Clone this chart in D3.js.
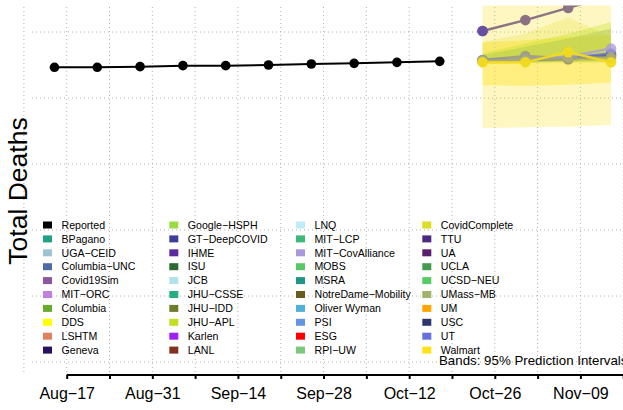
<!DOCTYPE html>
<html>
<head>
<meta charset="utf-8">
<script src="https://cdn.jsdelivr.net/npm/d3@7"></script>
<style>
  html, body { margin: 0; padding: 0; background: #fff; }
  svg { display: block; font-family: "Liberation Sans", Arial, Helvetica, sans-serif; }
</style>
</head>
<body>
<svg id="chart" width="623" height="410"></svg>
<script>
// ---------------- DATA ----------------
const reportedDates = ["2020-08-15","2020-08-22","2020-08-29","2020-09-05","2020-09-12",
                       "2020-09-19","2020-09-26","2020-10-03","2020-10-10","2020-10-17"];
const reportedValues = [893, 893, 895, 898, 898, 900, 903, 905, 908, 911];

const forecastDates = ["2020-10-24","2020-10-31","2020-11-07","2020-11-14"];

// forecast medians
const walmartMed   = [908, 908, 939, 908];
const lanlMed      = [1003, 1036, 1073, 1110];
const umassMed     = [915, 927, 920, 927];
const utMed        = [915, 918, 921, 935];
const uscMed       = [912, 915, 918, 930];
const covAllMed    = [914, 918, 925, 950];
const jhuApLMed    = [914, 918, 921, 925];
const covCompMed   = [911, 914, 917, 920];
const ttuMed       = [1003];

// 95% prediction intervals
const walmartLo = [709, 711, 713, 718];
const walmartHi = [1120, 1160, 1200, 1250];
const ddsLo     = [839, 836, 840, 846];
const ddsHi     = [968, 975, 985, 990];
const covCompLo = [905, 905, 906, 906];
const covCompHi = [970, 995, 1045, 985];
const jhuApLLo  = [905, 906, 908, 910];
const jhuApLHi  = [935, 965, 995, 1030];
const umassLo   = [906, 908, 910, 912];
const umassHi   = [930, 955, 980, 1010];

// y gridlines
const yGrid = [0, 200, 400, 600, 800, 1000];

// x ticks
const tickDates = ["2020-08-10","2020-08-17","2020-08-24","2020-08-31","2020-09-07","2020-09-14",
                   "2020-09-21","2020-09-28","2020-10-05","2020-10-12","2020-10-19","2020-10-26",
                   "2020-11-02","2020-11-09","2020-11-16"];
const tickLabels = ["", "Aug\u221217", "", "Aug\u221231", "", "Sep\u221214", "", "Sep\u221228", "",
                    "Oct\u221212", "", "Oct\u221226", "", "Nov\u221209", ""];

// legend
const legendNames = ["Reported","BPagano","UGA\u2212CEID","Columbia\u2212UNC","Covid19Sim","MIT\u2212ORC","Columbia","DDS","LSHTM","Geneva",
  "Google\u2212HSPH","GT\u2212DeepCOVID","IHME","ISU","JCB","JHU\u2212CSSE","JHU\u2212IDD","JHU\u2212APL","Karlen","LANL",
  "LNQ","MIT\u2212LCP","MIT\u2212CovAlliance","MOBS","MSRA","NotreDame\u2212Mobility","Oliver Wyman","PSI","ESG","RPI\u2212UW",
  "CovidComplete","TTU","UA","UCLA","UCSD\u2212NEU","UMass\u2212MB","UM","USC","UT","Walmart"];
const legendColors = ["#000000","#1fa187","#9cc3d5","#4f69a8","#8c55a0","#c080e0","#6aaa2c","#ffff00","#e08060","#271060",
  "#99dd44","#3a3f9b","#5b2a9e","#2d6a2f","#b4e0ee","#25b07f","#6e7b2a","#c0e024","#a020f0","#80321f",
  "#c0ecfa","#3cb878","#a898dc","#5ac866","#1e9688","#6b5a1e","#50b0d8","#6495e0","#ff0000","#7ec87e",
  "#dcdc20","#4a2a80","#5a2070","#459a4e","#55cc66","#a0b46a","#ffa500","#2e3670","#6470dc","#ffe119"];

// ---------------- CHART ----------------
const svg = d3.select("#chart");
const W = 623, H = 410;
const parse = d3.utcParse("%Y-%m-%d");

const x = d3.scaleUtc()
  .domain([parse("2020-08-17"), parse("2020-11-09")])
  .range([66.7, 580.4]);
const y = d3.scaleLinear().domain([0, 1000]).range([362, 32]);

const colorOf = name => legendColors[legendNames.indexOf(name)];

svg.append("defs").append("clipPath").attr("id", "plotclip")
  .append("rect").attr("x", 0).attr("y", 5.5).attr("width", W).attr("height", 370);

// gridlines
const grid = svg.append("g").attr("stroke", "#b0b0b0").attr("stroke-width", 1)
  .attr("stroke-dasharray", "1,3");
grid.selectAll("line.h").data(yGrid).join("line").attr("class", "h")
  .attr("x1", 32).attr("x2", W).attr("y1", d => y(d)).attr("y2", d => y(d));
grid.selectAll("line.v").data(tickDates).join("line").attr("class", "v")
  .attr("x1", d => x(parse(d))).attr("x2", d => x(parse(d))).attr("y1", 7).attr("y2", 375);

// bands
const plot = svg.append("g").attr("clip-path", "url(#plotclip)");
const fd = forecastDates.map(parse);
const bands = [
  { name: "Walmart", lo: walmartLo, hi: walmartHi, op: 0.27 },
  { name: "Walmart", lo: ddsLo, hi: ddsHi, op: 0.38 },
  { name: "CovidComplete", lo: covCompLo, hi: covCompHi, op: 0.22 },
  { name: "UMass\u2212MB", lo: umassLo, hi: umassHi, op: 0.4 },
  { name: "JHU\u2212APL", lo: jhuApLLo, hi: jhuApLHi, op: 0.35 }
];
const area = d3.area().x((d, i) => x(fd[i])).y0(d => y(d[0])).y1(d => y(d[1]));
bands.forEach(b => {
  plot.append("path")
    .datum(b.lo.map((v, i) => [v, b.hi[i]]))
    .attr("d", area)
    .attr("fill", colorOf(b.name))
    .attr("fill-opacity", b.op);
});

// reported
const rd = reportedDates.map(parse);
const line = d3.line().x(d => x(d[0])).y(d => y(d[1]));
plot.append("path")
  .datum(rd.map((d, i) => [d, reportedValues[i]]))
  .attr("d", line).attr("fill", "none").attr("stroke", "#000").attr("stroke-width", 2);
plot.selectAll("circle.rep").data(rd.map((d, i) => [d, reportedValues[i]])).join("circle")
  .attr("class", "rep").attr("cx", d => x(d[0])).attr("cy", d => y(d[1])).attr("r", 4.8).attr("fill", "#000");

// forecast lines
const models = [
  { name: "UMass\u2212MB", med: umassMed, color: "#9a9a88", op: 0.85 },
  { name: "USC", med: uscMed, color: colorOf("USC"), op: 0.8 },
  { name: "UT", med: utMed, color: colorOf("UT"), op: 0.8 },
  { name: "MIT\u2212CovAlliance", med: covAllMed, color: colorOf("MIT\u2212CovAlliance"), op: 0.75 },
  { name: "JHU\u2212APL", med: jhuApLMed, color: "#a8ac70", op: 0.7 },
  { name: "CovidComplete", med: covCompMed, color: "#b5b06a", op: 0.7 },
  { name: "LANL", med: lanlMed, color: "#8c7383", op: 1 },
  { name: "TTU", med: ttuMed, color: "#6a4fa0", op: 1 },
  { name: "Walmart", med: walmartMed, color: "#f2dc1c", op: 0.95 }
];
models.forEach(m => {
  const pts = m.med.map((v, i) => [fd[i], v]);
  const g = plot.append("g").attr("opacity", m.op);
  if (pts.length > 1) {
    g.append("path").datum(pts).attr("d", line).attr("fill", "none")
      .attr("stroke", m.color).attr("stroke-width", 2.5);
  }
  g.selectAll("circle").data(pts).join("circle")
    .attr("cx", d => x(d[0])).attr("cy", d => y(d[1])).attr("r", 5.3).attr("fill", m.color);
});

// x axis
svg.append("line").attr("x1", x(parse("2020-08-17"))).attr("x2", W + 5)
  .attr("y1", 375).attr("y2", 375).attr("stroke", "#000").attr("stroke-width", 2);
const axis = d3.axisBottom(x)
  .tickValues(tickDates.map(parse).filter(d => d >= parse("2020-08-17")))
  .tickSize(4).tickPadding(9)
  .tickFormat(d => tickLabels[tickDates.indexOf(d3.utcFormat("%Y-%m-%d")(d))]);
const ax = svg.append("g").attr("transform", "translate(0,375)").call(axis);
ax.select(".domain").remove();
ax.selectAll(".tick line").attr("stroke", "#000").attr("stroke-width", 2);
ax.selectAll(".tick text").attr("font-size", "16px").attr("fill", "#000")
  .attr("font-family", "Liberation Sans, Arial, sans-serif");

// y title
svg.append("text").attr("transform", "translate(27,191) rotate(-90)")
  .attr("text-anchor", "middle").attr("font-size", "26.5px").attr("fill", "#000")
  .text("Total Deaths");

// legend
const colX = [43, 169.3, 296, 422.3];
const leg = svg.append("g");
legendNames.forEach((n, i) => {
  const c = Math.floor(i / 10), r = i % 10;
  const cy = 225 + r * 13.9;
  leg.append("rect").attr("x", colX[c]).attr("y", cy - 3.5).attr("width", 9).attr("height", 7)
    .attr("fill", legendColors[i]);
  leg.append("text").attr("x", colX[c] + 18.5).attr("y", cy).attr("dy", "0.35em")
    .attr("font-size", "10.6px").attr("fill", "#000").text(n);
});

svg.append("text").attr("x", 439).attr("y", 364.5).attr("font-size", "13.3px").attr("fill", "#000")
  .text("Bands: 95% Prediction Intervals");
</script>
</body>
</html>
